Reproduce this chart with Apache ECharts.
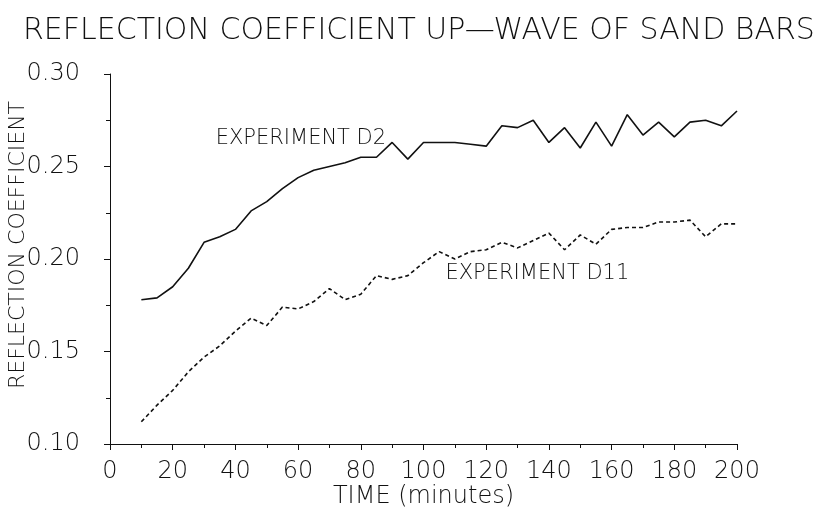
<!DOCTYPE html>
<html>
<head>
<meta charset="utf-8">
<script src="https://cdn.jsdelivr.net/npm/echarts@6/dist/echarts.min.js"></script>
<style>
  html, body { margin: 0; padding: 0; background: #fff; }
  #chart { width: 824px; height: 511px; }
</style>
</head>
<body>
<div id="chart"></div>
<script>
  // 时间 (minutes)
  var times = [10, 15, 20, 25, 30, 35, 40, 45, 50, 55, 60, 65, 70, 75, 80, 85, 90, 95, 100,
    105, 110, 115, 120, 125, 130, 135, 140, 145, 150, 155, 160, 165, 170, 175, 180, 185, 190, 195, 200]
  // EXPERIMENT D2
  var d2 = [0.178, 0.179, 0.185, 0.195, 0.209, 0.212, 0.216, 0.226, 0.231, 0.238, 0.244, 0.248, 0.250,
    0.252, 0.255, 0.255, 0.263, 0.254, 0.263, 0.263, 0.263, 0.262, 0.261, 0.272, 0.271, 0.275, 0.263,
    0.271, 0.260, 0.274, 0.261, 0.278, 0.267, 0.274, 0.266, 0.274, 0.275, 0.272, 0.280]
  // EXPERIMENT D11
  var d11 = [0.112, 0.121, 0.129, 0.139, 0.147, 0.153, 0.161, 0.168, 0.164, 0.174, 0.173, 0.177, 0.184,
    0.178, 0.181, 0.191, 0.189, 0.191, 0.198, 0.204, 0.200, 0.204, 0.205, 0.209, 0.206, 0.210, 0.214,
    0.205, 0.213, 0.208, 0.216, 0.217, 0.217, 0.220, 0.220, 0.221, 0.212, 0.219, 0.219]
  var xTicks = [0, 20, 40, 60, 80, 100, 120, 140, 160, 180, 200]
  var yTicks = [0.10, 0.15, 0.20, 0.25, 0.30]

  var font = 'DejaVu Sans'
  var weight = 200 // 细线字体, 没有就退回 normal
  var ink = '#111'

  function pairs (ys) {
    return times.map(function (t, i) { return [t, ys[i]] })
  }
  // 曲线旁的文字标注 (数据坐标, 文字左端对齐该点)
  function note (text, coord) {
    return {
      symbol: 'circle',
      symbolSize: 0,
      silent: true,
      data: [{ coord: coord }],
      label: {
        show: true,
        position: [0, 0],
        align: 'left',
        verticalAlign: 'middle',
        formatter: text,
        color: ink,
        fontFamily: font,
        fontWeight: weight,
        fontSize: 21
      }
    }
  }

  var chart = echarts.init(document.getElementById('chart'))
  chart.setOption({
    animation: false,
    backgroundColor: '#fff',
    title: {
      text: 'REFLECTION COEFFICIENT UP—WAVE OF SAND BARS',
      left: 18,
      top: 11,
      textStyle: { fontFamily: font, fontWeight: weight, fontSize: 30, color: ink }
    },
    grid: { left: 110, right: 87, top: 74, bottom: 67, outerBoundsMode: 'none', containLabel: false },
    xAxis: {
      type: 'value',
      min: xTicks[0],
      max: xTicks[xTicks.length - 1],
      interval: 20,
      name: 'TIME (minutes)',
      nameLocation: 'middle',
      nameGap: 41,
      nameMoveOverlap: false,
      nameTextStyle: { fontFamily: font, fontWeight: weight, fontSize: 24, color: ink },
      axisLine: { lineStyle: { color: ink, width: 1 } },
      axisTick: { length: 6, lineStyle: { color: ink } },
      minorTick: { show: true, splitNumber: 2, length: 4, lineStyle: { color: ink } },
      axisLabel: { fontFamily: font, fontWeight: weight, fontSize: 24, color: ink, margin: 16 },
      splitLine: { show: false }
    },
    yAxis: {
      type: 'value',
      min: yTicks[0],
      max: yTicks[yTicks.length - 1],
      interval: 0.05,
      name: 'REFLECTION COEFFICIENT',
      nameLocation: 'middle',
      nameGap: 81,
      nameMoveOverlap: false,
      nameTextStyle: { fontFamily: font, fontWeight: weight, fontSize: 22, color: ink, padding: [0, 0, 0, 28] },
      axisLine: { show: true, lineStyle: { color: ink, width: 1 } },
      axisTick: { show: true, length: 6, lineStyle: { color: ink } },
      minorTick: { show: true, splitNumber: 2, length: 4, lineStyle: { color: ink } },
      axisLabel: {
        fontFamily: font, fontWeight: weight, fontSize: 24, color: ink, margin: 30,
        formatter: function (v) { return v.toFixed(2) }
      },
      splitLine: { show: false }
    },
    series: [{
      name: 'EXPERIMENT D2',
      type: 'line',
      data: pairs(d2),
      symbol: 'none',
      lineStyle: { color: ink, width: 1.6, type: 'solid' },
      markPoint: note('EXPERIMENT D2', [33.7, 0.2649])
    }, {
      name: 'EXPERIMENT D11',
      type: 'line',
      data: pairs(d11),
      symbol: 'none',
      lineStyle: { color: ink, width: 1.6, type: [4, 3] },
      markPoint: note('EXPERIMENT D11', [107, 0.1924])
    }]
  })
</script>
</body>
</html>
